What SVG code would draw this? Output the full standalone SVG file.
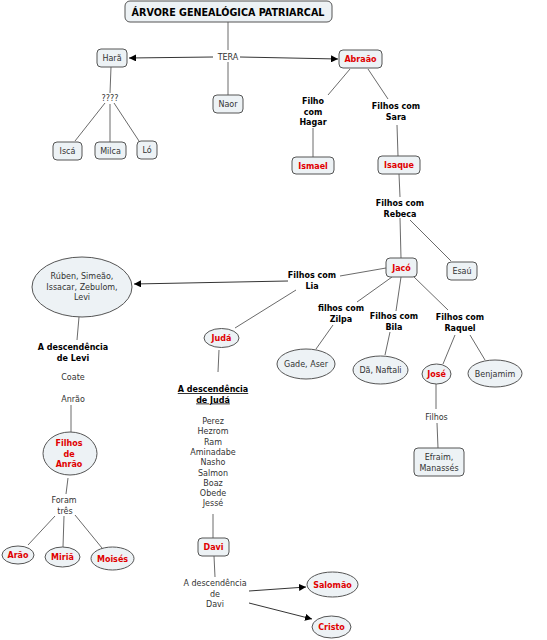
<svg xmlns="http://www.w3.org/2000/svg" width="547" height="640" viewBox="0 0 547 640">
<defs>
<marker id="arr" viewBox="0 0 10 10" refX="10" refY="5" markerWidth="7" markerHeight="7" orient="auto" markerUnits="userSpaceOnUse">
<path d="M0,0 L10,5 L0,10 z" fill="#000"/>
</marker>
<style>
.n{fill:#edf2f5;stroke:#555;stroke-width:1}
.t{font-family:"DejaVu Sans",Verdana,sans-serif;font-size:8px;fill:#333;text-anchor:middle}
.b{font-family:"DejaVu Sans",Verdana,sans-serif;font-size:8px;font-weight:bold;fill:#000;text-anchor:middle}
.r{font-family:"DejaVu Sans",Verdana,sans-serif;font-size:8px;font-weight:bold;fill:#e00000;text-anchor:middle}
.c line,.c path{stroke:#444;stroke-width:0.8;fill:none}
.a{stroke:#000 !important;marker-end:url(#arr)}
</style>
</defs>
<rect width="547" height="640" fill="#fff"/>

<g class="c">
<line x1="228" y1="22" x2="228" y2="50"/>
<line x1="228" y1="62" x2="228" y2="95"/>
<line class="a" x1="213" y1="57" x2="129" y2="58"/>
<line class="a" x1="240" y1="57" x2="338" y2="59"/>
<line x1="111" y1="67" x2="110" y2="93"/>
<line x1="105" y1="103" x2="75" y2="141"/>
<line x1="110" y1="104" x2="110" y2="142"/>
<line x1="114" y1="103" x2="139" y2="141"/>
<line x1="350" y1="69" x2="328" y2="95"/>
<line x1="313" y1="128" x2="313" y2="157"/>
<line x1="368" y1="69" x2="388" y2="99"/>
<line x1="397" y1="125" x2="398" y2="156"/>
<line x1="399" y1="174" x2="400" y2="197"/>
<line x1="400" y1="218" x2="401" y2="258"/>
<line x1="410" y1="220" x2="451" y2="261"/>
<line x1="386" y1="268" x2="340" y2="276"/>
<line class="a" x1="288" y1="281" x2="134" y2="284"/>
<line x1="79" y1="317" x2="77" y2="340"/>
<line x1="296" y1="290" x2="235" y2="328"/>
<line x1="392" y1="277" x2="357" y2="302"/>
<line x1="333" y1="325" x2="316" y2="349"/>
<line x1="401" y1="277" x2="396" y2="311"/>
<line x1="390" y1="332" x2="385" y2="355"/>
<line x1="413" y1="276" x2="448" y2="310"/>
<line x1="455" y1="335" x2="443" y2="364"/>
<line x1="470" y1="335" x2="485" y2="360"/>
<line x1="436" y1="384" x2="436" y2="409"/>
<line x1="437" y1="423" x2="438" y2="448"/>
<line x1="219" y1="350" x2="218" y2="372"/>
<line x1="213" y1="514" x2="213" y2="538"/>
<line x1="214" y1="556" x2="215" y2="577"/>
<line class="a" x1="249" y1="591" x2="306" y2="587"/>
<line class="a" x1="249" y1="603" x2="312" y2="619"/>
<line x1="71" y1="405" x2="71" y2="432"/>
<line x1="68" y1="478" x2="66" y2="494"/>
<line x1="55" y1="516" x2="28" y2="545"/>
<line x1="64" y1="516" x2="63" y2="547"/>
<line x1="75" y1="515" x2="102" y2="548"/>
</g>

<g id="title"><rect class="n" x="125" y="1" width="207" height="21" rx="5"/><text class="b" x="228" y="15.5" style="font-size:9.6px">ÁRVORE GENEALÓGICA PATRIARCAL</text></g>
<g id="tera"><text class="t" x="228" y="59.5">TERA</text></g>
<g id="hara"><rect class="n" x="97" y="49" width="30" height="18" rx="4"/><text class="t" x="112" y="61">Harã</text></g>
<g id="abraao"><rect class="n" x="339" y="50" width="43" height="18" rx="4"/><text class="r" x="360.5" y="62">Abraão</text></g>
<g id="naor"><rect class="n" x="213" y="95" width="30" height="18" rx="4"/><text class="t" x="228" y="107">Naor</text></g>
<g id="q"><text class="t" x="110" y="101">????</text></g>
<g id="isca"><rect class="n" x="53" y="142" width="29" height="18" rx="4"/><text class="t" x="67.5" y="154">Iscá</text></g>
<g id="milca"><rect class="n" x="95" y="142" width="31" height="17" rx="4"/><text class="t" x="110.5" y="153.5">Milca</text></g>
<g id="lo"><rect class="n" x="137" y="141" width="20" height="18" rx="4"/><text class="t" x="147" y="153">Ló</text></g>
<g id="hagar"><text class="b" x="313" y="104">Filho</text><text class="b" x="313" y="114.5">com</text><text class="b" x="313" y="125">Hagar</text></g>
<g id="sara"><text class="b" x="396" y="109">Filhos com</text><text class="b" x="396" y="119.5">Sara</text></g>
<g id="ismael"><rect class="n" x="292" y="157" width="42" height="17" rx="4"/><text class="r" x="313" y="168.5">Ismael</text></g>
<g id="isaque"><rect class="n" x="378" y="156" width="42" height="18" rx="4"/><text class="r" x="399" y="168">Isaque</text></g>
<g id="rebeca"><text class="b" x="400" y="206">Filhos com</text><text class="b" x="400" y="216.5">Rebeca</text></g>
<g id="jaco"><rect class="n" x="386" y="258" width="31" height="19" rx="4"/><text class="r" x="401.5" y="270.5">Jacó</text></g>
<g id="esau"><rect class="n" x="447" y="262" width="30" height="18" rx="4"/><text class="t" x="462" y="274">Esaú</text></g>
<g id="lia"><text class="b" x="312" y="278">Filhos com</text><text class="b" x="312" y="288.5">Lia</text></g>
<g id="ruben"><ellipse class="n" cx="82" cy="287" rx="50" ry="30"/><text class="t" x="82" y="279">Rúben, Simeão,</text><text class="t" x="82" y="289.5">Issacar, Zebulom,</text><text class="t" x="82" y="300">Levi</text></g>
<g id="levi"><text class="b" x="73" y="350">A descendência</text><text class="b" x="73" y="360.5">de Levi</text></g>
<g id="juda"><ellipse class="n" cx="221.5" cy="338" rx="17.5" ry="9.5"/><text class="r" x="221.5" y="341">Judá</text></g>
<g id="zilpa"><text class="b" x="341" y="311">filhos com</text><text class="b" x="341" y="321.5">Zilpa</text></g>
<g id="bila"><text class="b" x="394" y="319">Filhos com</text><text class="b" x="394" y="329.5">Bila</text></g>
<g id="raquel"><text class="b" x="460" y="320">Filhos com</text><text class="b" x="460" y="330.5">Raquel</text></g>
<g id="gade"><ellipse class="n" cx="306" cy="364" rx="29" ry="15"/><text class="t" x="306" y="367">Gade, Aser</text></g>
<g id="da"><ellipse class="n" cx="380.5" cy="370" rx="27.5" ry="14"/><text class="t" x="380.5" y="373">Dã, Naftali</text></g>
<g id="jose"><ellipse class="n" cx="436.5" cy="374" rx="14.5" ry="10"/><text class="r" x="436.5" y="377">José</text></g>
<g id="benjamim"><ellipse class="n" cx="495" cy="373.5" rx="27" ry="13.5"/><text class="t" x="495" y="376.5">Benjamim</text></g>
<g id="filhos"><text class="t" x="436.5" y="419.5">Filhos</text></g>
<g id="efraim"><rect class="n" x="414" y="448" width="50" height="28" rx="4"/><text class="t" x="439" y="460">Efraim,</text><text class="t" x="439" y="470.5">Manassés</text></g>
<g id="coate"><text class="t" x="73" y="380">Coate</text><text class="t" x="73" y="401.5">Anrão</text></g>
<g id="anrao"><ellipse class="n" cx="70" cy="453.5" rx="27" ry="21.5"/><text class="r" x="69" y="446">Filhos</text><text class="r" x="69" y="456.5">de</text><text class="r" x="69" y="467">Anrão</text></g>
<g id="foram"><text class="t" x="64" y="503">Foram</text><text class="t" x="65" y="513.5">três</text></g>
<g id="arao"><ellipse class="n" cx="18" cy="555" rx="16" ry="9"/><text class="r" x="18" y="558">Arão</text></g>
<g id="miria"><ellipse class="n" cx="62.5" cy="557" rx="17.5" ry="10"/><text class="r" x="62.5" y="560">Miriã</text></g>
<g id="moises"><ellipse class="n" cx="112.5" cy="558.5" rx="21.5" ry="11.5"/><text class="r" x="112.5" y="561.5">Moisés</text></g>
<g id="descjuda"><text class="b" x="213" y="392" text-decoration="underline">A descendência</text><text class="b" x="213" y="402.5" text-decoration="underline"> de Judá</text></g>
<g id="lista" class="t">
<text class="t" x="213" y="424">Perez</text>
<text class="t" x="213" y="434.3">Hezrom</text>
<text class="t" x="213" y="444.6">Ram</text>
<text class="t" x="213" y="454.9">Aminadabe</text>
<text class="t" x="213" y="465.2">Nasho</text>
<text class="t" x="213" y="475.5">Salmon</text>
<text class="t" x="213" y="485.8">Boaz</text>
<text class="t" x="213" y="496.1">Obede</text>
<text class="t" x="213" y="506.4">Jessé</text>
</g>
<g id="davi"><rect class="n" x="198" y="538" width="31" height="18" rx="4"/><text class="r" x="213.5" y="550">Davi</text></g>
<g id="descdavi"><text class="t" x="215" y="586">A descendência</text><text class="t" x="215" y="596.5">de</text><text class="t" x="215" y="607">Davi</text></g>
<g id="salomao"><ellipse class="n" cx="332.5" cy="584.5" rx="25.5" ry="12.5"/><text class="r" x="332.5" y="587.5">Salomão</text></g>
<g id="cristo"><ellipse class="n" cx="331.5" cy="627" rx="19.5" ry="11"/><text class="r" x="331.5" y="630">Cristo</text></g>
</svg>
